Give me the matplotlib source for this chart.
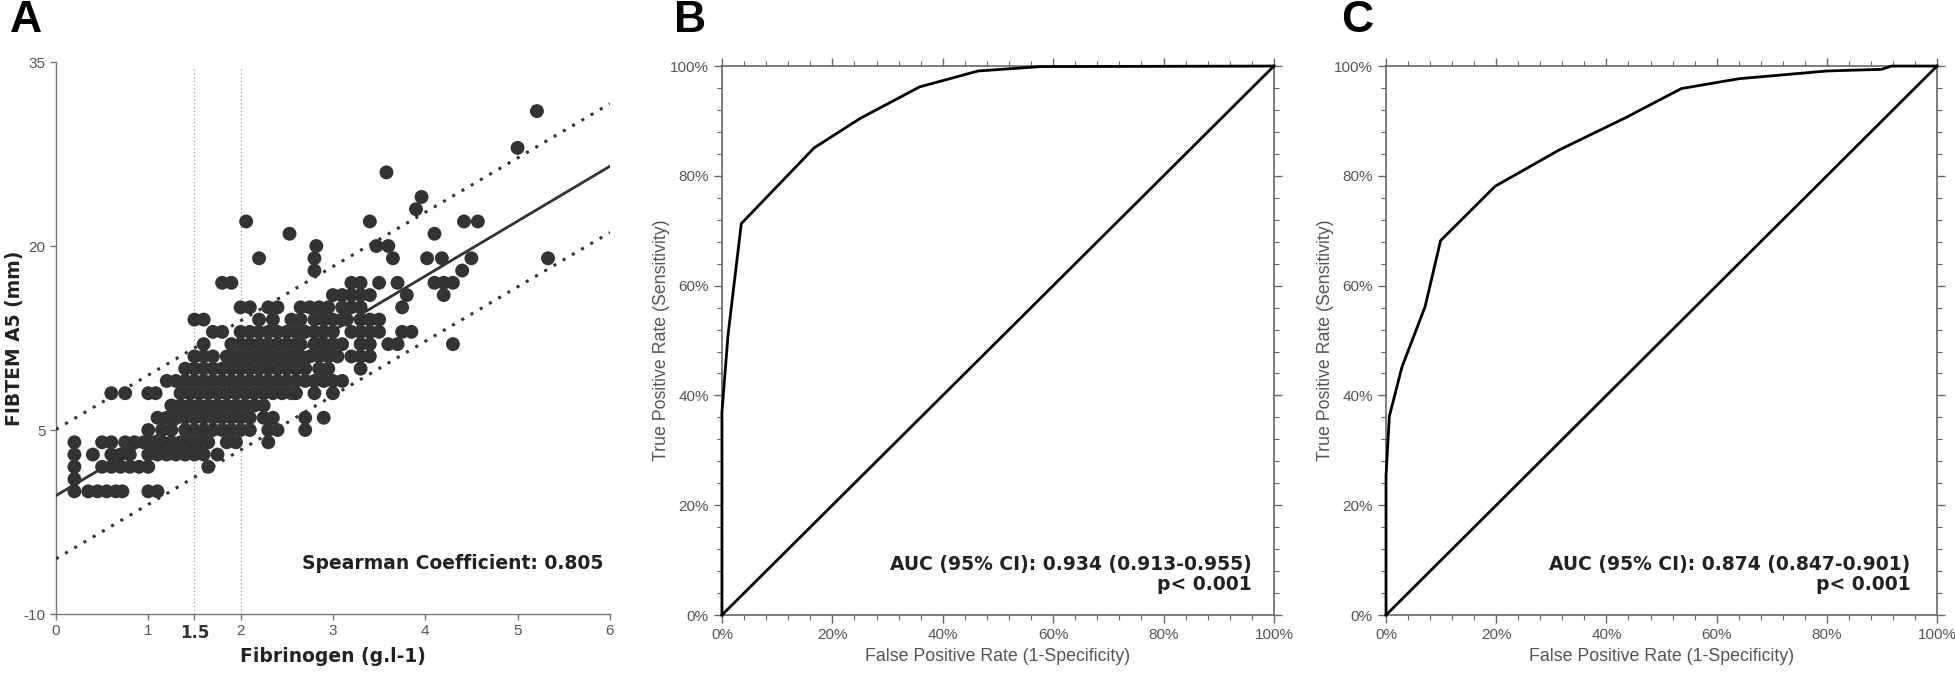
import matplotlib
matplotlib.use("Agg")
import matplotlib.pyplot as plt
from matplotlib.ticker import MultipleLocator, FuncFormatter

plt.rcParams["axes.unicode_minus"] = False

# ---- Panel A: FIBTEM A5 (mm) levels and fibrinogen (g/l) values on each level
a5_levels = [0, 1, 2, 3, 4, 5, 6, 7, 8, 9, 10, 11, 12, 13, 14, 15, 16, 17,
             18, 19, 20, 21, 22, 23, 24, 26, 28, 31]
fib_at_level = [
    [0.2, 0.35, 0.45, 0.55, 0.65, 0.72, 1.0, 1.1],
    [0.2],
    [0.2, 0.5, 0.6, 0.7, 0.8, 0.9, 1.0, 1.65],
    [0.2, 0.4, 0.6, 0.7, 0.8, 1.0, 1.1, 1.2, 1.3, 1.4, 1.5, 1.6, 1.75],
    [0.2, 0.5, 0.6, 0.75, 0.85, 0.95, 1.05, 1.15, 1.25, 1.35, 1.45, 1.55,
     1.65, 1.85, 1.95, 2.3],
    [1.0, 1.15, 1.25, 1.4, 1.5, 1.6, 1.7, 1.8, 1.9, 2.0, 2.1, 2.3, 2.4, 2.7],
    [1.1, 1.2, 1.3, 1.4, 1.5, 1.6, 1.7, 1.8, 1.9, 2.0, 2.1, 2.25, 2.35, 2.7, 2.9],
    [1.25, 1.35, 1.45, 1.55, 1.65, 1.75, 1.85, 1.95, 2.05, 2.15, 2.25],
    [0.6, 0.75, 1.0, 1.08, 1.35, 1.45, 1.55, 1.65, 1.75, 1.85, 1.95, 2.05,
     2.15, 2.25, 2.35, 2.45, 2.55, 2.6, 2.8, 3.0],
    [1.2, 1.3, 1.4, 1.5, 1.6, 1.7, 1.8, 1.9, 2.0, 2.1, 2.2, 2.3, 2.4, 2.5,
     2.6, 2.7, 2.8, 2.9, 3.0, 3.1],
    [1.4, 1.5, 1.6, 1.7, 1.8, 1.9, 2.0, 2.1, 2.2, 2.3, 2.4, 2.5, 2.6, 2.7,
     2.85, 2.95, 3.3],
    [1.5, 1.6, 1.7, 1.85, 1.95, 2.05, 2.15, 2.25, 2.35, 2.45, 2.55, 2.65,
     2.75, 2.85, 2.95, 3.05, 3.2, 3.3, 3.4],
    [1.6, 1.9, 2.0, 2.1, 2.2, 2.3, 2.4, 2.5, 2.6, 2.65, 2.8, 2.9, 3.0, 3.1,
     3.3, 3.4, 3.6, 3.7, 4.3],
    [1.7, 1.8, 2.0, 2.1, 2.2, 2.3, 2.4, 2.5, 2.6, 2.7, 2.8, 2.9, 3.0, 3.2,
     3.3, 3.4, 3.5, 3.75, 3.85],
    [1.5, 1.6, 2.2, 2.35, 2.55, 2.65, 2.8, 2.9, 3.0, 3.1, 3.15, 3.3, 3.4, 3.5],
    [2.0, 2.1, 2.3, 2.4, 2.65, 2.75, 2.85, 2.95, 3.1, 3.2, 3.3, 3.75],
    [3.0, 3.1, 3.2, 3.3, 3.4, 3.8, 4.2],
    [1.8, 1.9, 3.2, 3.3, 3.5, 3.7, 4.1, 4.2, 4.3],
    [2.8, 4.4],
    [2.2, 2.8, 3.65, 4.02, 4.18, 4.5, 5.33],
    [2.82, 3.47, 3.6],
    [2.53, 4.1],
    [2.06, 3.4, 4.42, 4.57],
    [3.9],
    [3.96],
    [3.58],
    [5.0],
    [5.21],
]

# regression line and prediction band, read at fibrinogen 0 and 6
fit_x = [0, 6]
fit_y = [-0.35, 26.5]
band_upper = [5.05, 31.6]
band_lower = [-5.5, 21.1]
cutoffs = [1.5, 2.0]

a_xticks = [0, 1, 1.5, 2, 3, 4, 5, 6]
a_xticklabels = ["0", "1", "1.5", "2", "3", "4", "5", "6"]
a_yticks = [-10, 5, 20, 35]

# ---- Panels B and C: ROC curves (percent)
fpr_b = [0, 0, 1.1, 3.5, 16.7, 25.1, 35.8, 46.4, 57.7, 100]
tpr_b = [0, 37, 51, 71.3, 85.1, 90.5, 96.2, 99.1, 99.9, 100]
fpr_c = [0, 0, 0.6, 2.9, 7.1, 9.9, 19.8, 31.4, 43.5, 53.6, 64.1, 80, 89.9, 91.8, 100]
tpr_c = [0, 25.3, 36.2, 45.2, 56.2, 68.2, 78.1, 84.7, 90.6, 95.9, 97.7, 99.1, 99.4, 100, 100]
auc_b = "AUC (95% CI): 0.934 (0.913-0.955)"
auc_c = "AUC (95% CI): 0.874 (0.847-0.901)"
p_text = "p< 0.001"

SANS = ["Liberation Sans", "DejaVu Sans"]
BOLD = ["DejaVu Sans"]
TICK_COL = "#555555"

fig = plt.figure(figsize=(19.56, 6.74), dpi=100)

# ---------------- Panel A ----------------
ax = fig.add_axes([0.0286, 0.089, 0.2832, 0.819])
xs, ys = [], []
for lvl, vals in zip(a5_levels, fib_at_level):
    xs += vals
    ys += [lvl] * len(vals)
ax.scatter(xs, ys, s=100, color="#333333", edgecolors="none", zorder=3)

ax.plot(fit_x, fit_y, color="#333333", lw=2.0, zorder=4)
for band in (band_upper, band_lower):
    ax.plot(fit_x, band, color="#333333", lw=2.2, ls=(0, (1, 2.5)), zorder=4)
for c in cutoffs:
    ax.axvline(c, ymax=0.99, color="#999999", lw=0.9, ls=(0, (1, 2)), zorder=1)

ax.set_xlim(0, 6)
ax.set_ylim(-10, 35)
ax.set_xticks(a_xticks)
ax.set_xticklabels(a_xticklabels)
ax.set_yticks(a_yticks)
for sp in ("top", "right"):
    ax.spines[sp].set_visible(False)
for sp in ("left", "bottom"):
    ax.spines[sp].set_color("#777777")
    ax.spines[sp].set_linewidth(1.0)
ax.tick_params(direction="out", length=4, width=1, color="#777777",
               labelcolor=TICK_COL, labelsize=11)
for lab in ax.get_xticklabels() + ax.get_yticklabels():
    lab.set_family(SANS)
lab15 = ax.get_xticklabels()[2]
lab15.set_family(BOLD)
lab15.set_fontweight("bold")
lab15.set_fontsize(12)
lab15.set_color("#333333")

ax.set_xlabel("Fibrinogen (g.l-1)", family=BOLD, fontweight="bold",
              fontsize=13.5, color="#222222", labelpad=3)
ax.set_ylabel("FIBTEM A5 (mm)", family=BOLD, fontweight="bold",
              fontsize=13.5, color="#222222")
ax.yaxis.set_label_coords(-0.058, 0.5)
ax.text(5.93, -5.9, "Spearman Coefficient: 0.805", ha="right", va="center",
        family=BOLD, fontweight="bold", fontsize=13.5, color="#222222")


# ---------------- Panels B, C ----------------
def roc_panel(rect, fpr, tpr, auc_txt, tx):
    a = fig.add_axes(rect)
    a.plot([0, 100], [0, 100], color="black", lw=2.0, clip_on=False, zorder=3)
    a.plot(fpr, tpr, color="black", lw=2.0, clip_on=False, zorder=3)
    a.set_xlim(0, 100)
    a.set_ylim(0, 100)
    a.xaxis.set_major_locator(MultipleLocator(20))
    a.yaxis.set_major_locator(MultipleLocator(20))
    a.xaxis.set_minor_locator(MultipleLocator(4))
    a.yaxis.set_minor_locator(MultipleLocator(4))
    pct = FuncFormatter(lambda v, _: f"{v:.0f}%")
    a.xaxis.set_major_formatter(pct)
    a.yaxis.set_major_formatter(pct)
    for sp in a.spines.values():
        sp.set_color("#666666")
        sp.set_linewidth(1.2)
    a.tick_params(which="both", direction="out", top=True, right=True,
                  color="#666666", labelcolor=TICK_COL, labelsize=11)
    a.tick_params(which="major", length=6, width=1.0)
    a.tick_params(which="minor", length=3.5, width=0.8)
    for lab in a.get_xticklabels() + a.get_yticklabels():
        lab.set_family(SANS)
    a.set_xlabel("False Positive Rate (1-Specificity)", family=SANS,
                 fontsize=12.8, color="#555555", labelpad=4)
    a.set_ylabel("True Positive Rate (Sensitivity)", family=SANS,
                 fontsize=12.8, color="#555555")
    a.yaxis.set_label_coords(-0.094, 0.5)
    a.text(tx, 9.2, auc_txt, ha="right", va="center", family=BOLD,
           fontweight="bold", fontsize=13.5, color="#222222")
    a.text(tx, 5.5, p_text, ha="right", va="center", family=BOLD,
           fontweight="bold", fontsize=13.5, color="#222222")
    return a


roc_panel([0.3691, 0.0875, 0.2822, 0.8145], fpr_b, tpr_b, auc_b, 96.0)
roc_panel([0.7086, 0.0875, 0.2817, 0.8145], fpr_c, tpr_c, auc_c, 95.2)

# panel letters
for x, letter in ((0.005, "A"), (0.3446, "B"), (0.6856, "C")):
    fig.text(x, 1.0, letter, ha="left", va="top", family=SANS,
             fontweight="bold", fontsize=32, color="black")

fig.savefig("out.png", dpi=100)
